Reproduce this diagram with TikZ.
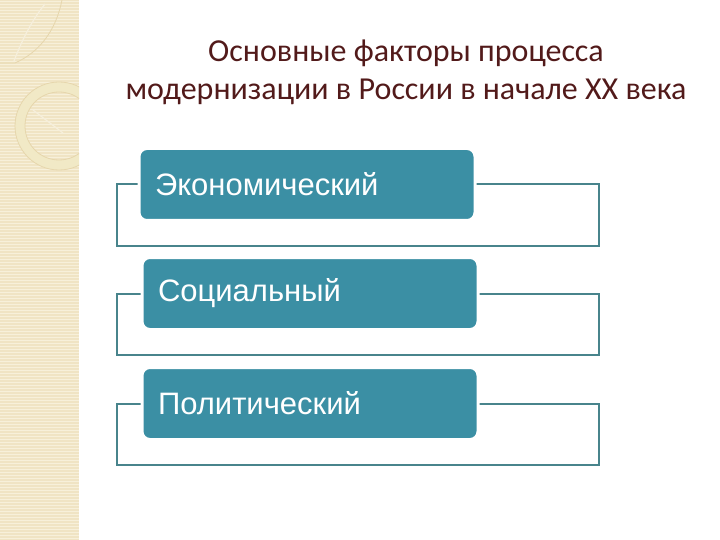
\documentclass[tikz,border=0pt]{standalone}
\usepackage{fontspec}
\setmainfont{Liberation Sans}
\newfontfamily\titlefont{Carlito}
\usetikzlibrary{positioning}

\definecolor{boxteal}{RGB}{59,143,164}
\definecolor{frameteal}{RGB}{72,132,140}
\definecolor{titlebrown}{RGB}{82,26,26}
\definecolor{stripbeige}{RGB}{240,228,196}
\definecolor{stripline}{RGB}{247,240,218}
\definecolor{ringedge}{RGB}{230,214,172}
\definecolor{ringfill}{RGB}{241,233,198}

\tikzset{
    factor/.style={rectangle, rounded corners=8pt, fill=boxteal, draw=white, line width=3pt,
        minimum height=72pt, text width=304pt, inner xsep=16pt, align=left, text=white,
        font=\fontsize{31}{36}\selectfont},
    frame/.style={draw=frameteal, line width=2pt},
}

\begin{document}
\begin{tikzpicture}[x=1pt, y=-1pt]
        \useasboundingbox (0,0) rectangle (720,540);

        % left strip
        \fill[stripbeige] (0,0) rectangle (79,540);
        \foreach \y in {1,4,...,540} {
            \draw[stripline, line width=0.8pt] (0,\y) -- (79,\y);
        }
        \begin{scope}
            \clip (0,0) rectangle (79,540);
            \fill[ringfill, even odd rule] (59,126) circle [radius=44pt] (59,126) circle [radius=34pt];
            \draw[ringedge, line width=0.8pt] (59,126) circle [radius=44pt] (59,126) circle [radius=34pt];
            \draw[white!40!stripbeige, line width=1.2pt] (33,110) -- (63,133);
        \end{scope}
        \draw[ringedge, line width=0.8pt] (0,63) -- (15,63) .. controls (40,52) and (56,30) .. (62,0);
        \draw[white!40!stripbeige, line width=1.2pt] (14,61) .. controls (22,40) and (32,20) .. (45,4);

        % title
        \node[align=center, text=titlebrown, font=\titlefont\fontsize{32}{38}\selectfont] (title) at (406,72)
            {Основные факторы процесса\\модернизации в России в начале XX века};

        % factors
        \foreach \name/\txt/\x/\y in {econ/Экономический/307/184.5, social/Социальный/310/293.5, polit/Политический/310/403.5} {
            \draw[frame] (117,\y) rectangle (599,\y+61.5);
            \node[factor] (\name) at (\x,\y) {\txt};
        }
\end{tikzpicture}
\end{document}
